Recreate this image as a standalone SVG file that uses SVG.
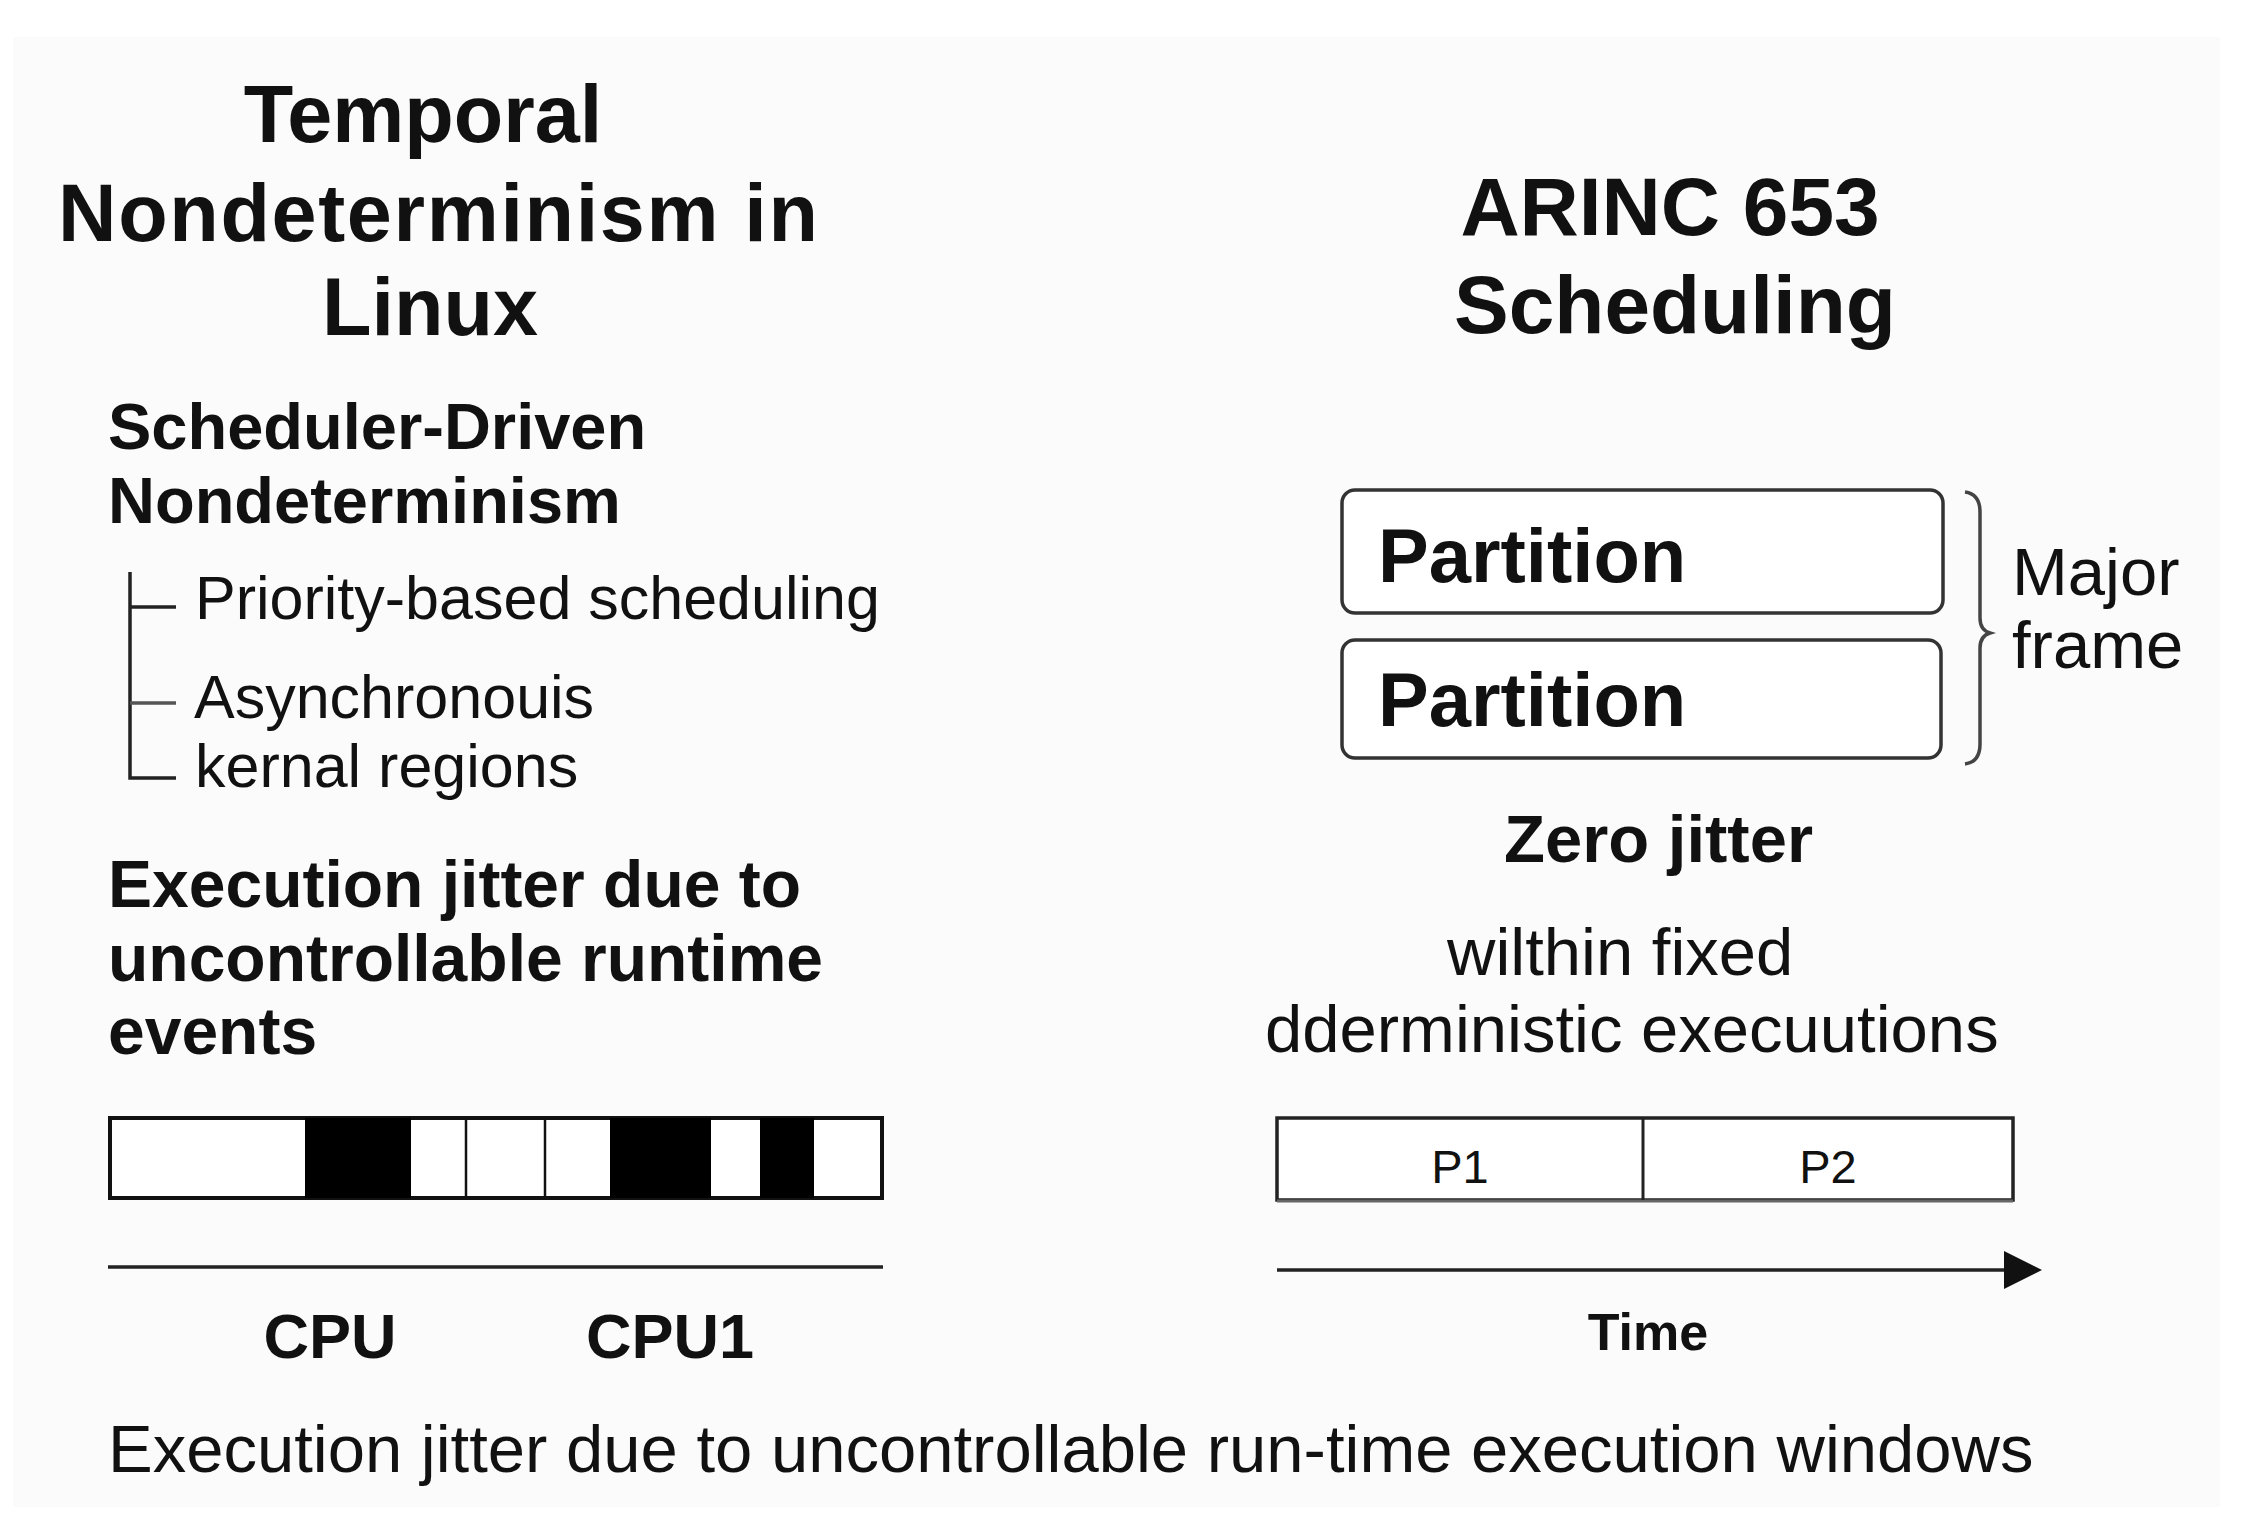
<svg xmlns="http://www.w3.org/2000/svg" width="2255" height="1531" viewBox="0 0 2255 1531">
<style>
text{font-family:"Liberation Sans",Arial,Helvetica,sans-serif;fill:#111}
.b{font-weight:bold}
.t{font-size:81px;font-weight:bold}
.sub{font-size:65px;font-weight:bold}
.reg{font-size:61px}
.box{fill:#fff;stroke:#333;stroke-width:3.5}
.ln{stroke:#222;stroke-width:3.5;fill:none}
</style>
<defs>
<marker id="ah" markerWidth="38" markerHeight="38" refX="0" refY="5" orient="auto" markerUnits="userSpaceOnUse" viewBox="0 0 10 10">
<path d="M0,0 L10,5 L0,10 Z" fill="#111"/>
</marker>
</defs>
<rect x="0" y="0" width="2255" height="1531" fill="#fff"/>
<rect x="13" y="37" width="2207" height="1470" fill="#fbfbfb"/>

<g id="left-title">
<text class="t" x="423" y="142" text-anchor="middle">Temporal</text>
<text class="t" x="438" y="241" text-anchor="middle" textLength="760" lengthAdjust="spacing">Nondeterminism in</text>
<text class="t" x="430" y="335" text-anchor="middle">Linux</text>
</g>

<g id="scheduler-driven">
<text class="sub" x="108" y="449">Scheduler-Driven</text>
<text class="sub" x="108" y="523">Nondeterminism</text>
</g>

<g id="tree-items">
<text class="reg" x="195" y="619">Priority-based scheduling</text>
<text class="reg" x="194" y="718">Asynchronouis</text>
<text class="reg" x="195" y="787">kernal regions</text>
</g>

<g id="exec-jitter">
<text class="sub" style="font-size:66px" x="108" y="907">Execution jitter due to</text>
<text class="sub" style="font-size:66px" x="108" y="981">uncontrollable runtime</text>
<text class="sub" style="font-size:66px" x="108" y="1054">events</text>
</g>

<g id="cpu-bar">
<rect x="110" y="1118" width="772" height="80" fill="#fff" stroke="#111" stroke-width="4"/>
<rect x="305" y="1118" width="106" height="80" fill="#000"/>
<rect x="610" y="1118" width="101" height="80" fill="#000"/>
<rect x="760" y="1118" width="54" height="80" fill="#000"/>
<line x1="466" y1="1118" x2="466" y2="1198" stroke="#111" stroke-width="2.5"/>
<line x1="545" y1="1118" x2="545" y2="1198" stroke="#111" stroke-width="2.5"/>
</g>

<g id="cpu-labels">
<text class="b" style="font-size:63px" x="330" y="1358" text-anchor="middle">CPU</text>
<text class="b" style="font-size:63px" x="670" y="1358" text-anchor="middle">CPU1</text>
</g>

<g id="right-title">
<text class="t" style="font-size:82px" x="1670" y="235" text-anchor="middle">ARINC 653</text>
<text class="t" style="font-size:82px" x="1675" y="333" text-anchor="middle">Scheduling</text>
</g>

<g id="partition-1">
<rect class="box" x="1342" y="490" width="601" height="123" rx="13"/>
<text class="b" style="font-size:76px" x="1378" y="582">Partition</text>
</g>
<g id="partition-2">
<rect class="box" x="1342" y="640" width="599" height="118" rx="13"/>
<text class="b" style="font-size:76px" x="1378" y="726">Partition</text>
</g>

<g id="major-frame">
<path d="M1965,492 Q1980,494 1980,512 L1980,618 Q1980,630 1990,633 Q1980,636 1980,648 L1980,744 Q1980,762 1965,764" fill="none" stroke="#444" stroke-width="3.5"/>
<text style="font-size:67px" x="2012" y="595">Major</text>
<text style="font-size:67px" x="2012" y="668">frame</text>
</g>

<g id="zero-jitter">
<text class="b" style="font-size:67px" x="1504" y="862">Zero jitter</text>
<text style="font-size:67px" x="1447" y="975">wilthin fixed</text>
<text style="font-size:67px" x="1265" y="1052">dderministic execuutions</text>
</g>

<g id="partition-bar">
<rect x="1277" y="1118" width="736" height="82" fill="#fff" stroke="#222" stroke-width="3.5"/>
<line x1="1277" y1="1201" x2="2013" y2="1201" stroke="#666" stroke-width="3"/>
<line x1="1643" y1="1118" x2="1643" y2="1200" stroke="#222" stroke-width="3"/>
<text style="font-size:47px" x="1460" y="1183" text-anchor="middle">P1</text>
<text style="font-size:47px" x="1828" y="1183" text-anchor="middle">P2</text>
</g>

<g id="time-label">
<text class="b" style="font-size:52px" x="1648" y="1350" text-anchor="middle">Time</text>
</g>

<g id="caption">
<text style="font-size:67px" x="108" y="1472">Execution jitter due to uncontrollable run-time execution windows</text>
</g>

<g id="connectors">
<path class="ln" d="M130,572 L130,778 L176,778"/>
<line class="ln" x1="130" y1="607" x2="176" y2="607"/>
<line x1="130" y1="703" x2="176" y2="703" stroke="#555" stroke-width="3.5"/>
<line class="ln" x1="108" y1="1267" x2="883" y2="1267"/>
<line class="ln" x1="1277" y1="1270" x2="2004" y2="1270" marker-end="url(#ah)"/>
</g>
</svg>
